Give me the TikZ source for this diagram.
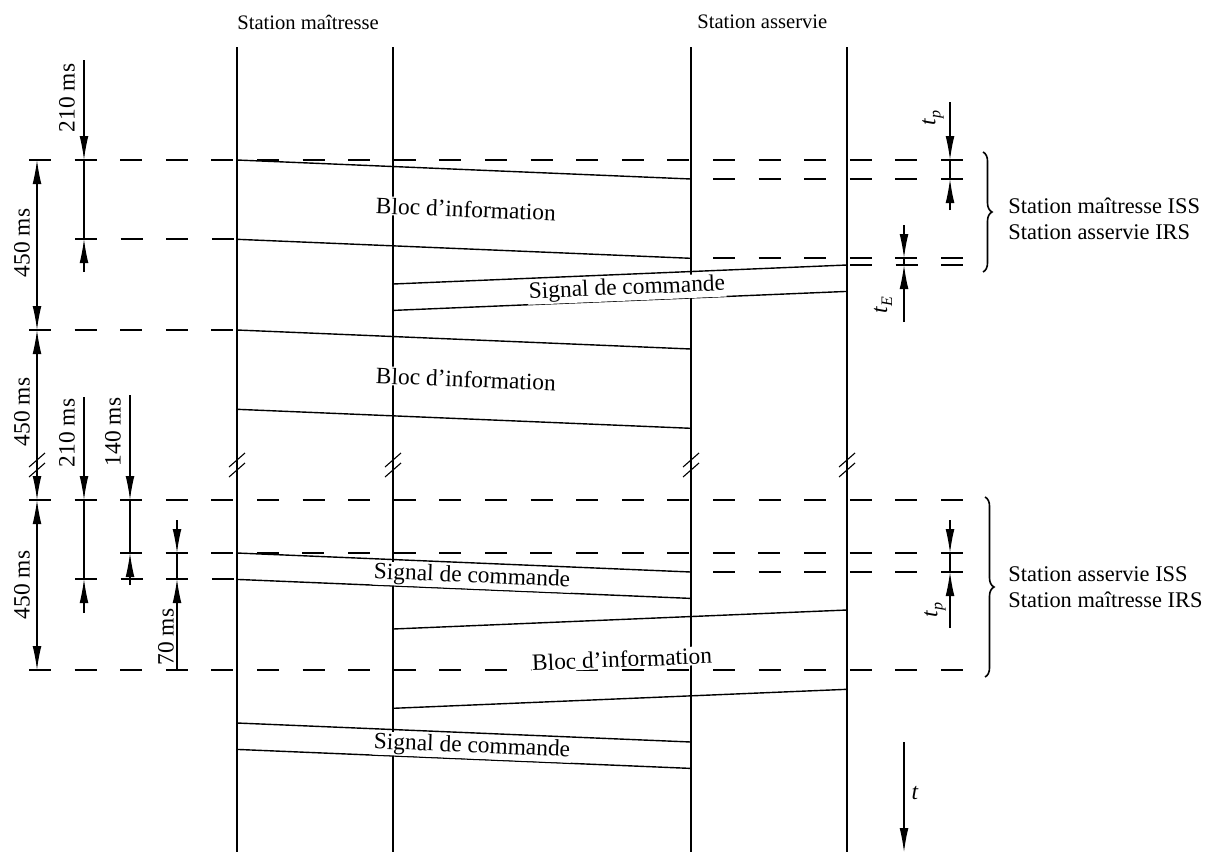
\documentclass[tikz,border=0pt]{standalone}
\usepackage{fontspec}
\setmainfont{Liberation Serif}
\usetikzlibrary{arrows.meta, decorations.pathreplacing}

\tikzset{
  lane/.style={line width=0.55pt},
  blk/.style={line width=0.7pt},
  refline/.style={line width=0.55pt, dash pattern=on 11pt off 11.8pt},
  dimline/.style={line width=0.55pt},
  tip/.style={-{Latex[length=12pt,width=4.4pt]}},
  both/.style={{Latex[length=12pt,width=4.4pt]}-{Latex[length=12pt,width=4.4pt]}},
  lbl/.style={fill=white, inner sep=0.5pt, font=\fontsize{11.7}{13}\selectfont},
  txt/.style={inner sep=0pt, font=\fontsize{11.7}{13}\selectfont},
  hdr/.style={inner sep=0pt, font=\fontsize{10.3}{12}\selectfont},
  side/.style={inner sep=0pt, align=left, font=\fontsize{11.2}{13}\selectfont},
  brk/.style={line width=0.55pt},
}
\newcommand{\tsym}[1]{\textit{t}\raisebox{-0.45ex}{\footnotesize\textit{#1}}}

\begin{document}
\begin{tikzpicture}[x=0.5pt, y=-0.5pt]
  \useasboundingbox (0,0) rectangle (1208,852);

  % stations
  \node[hdr, anchor=west] (hdrM) at (237,22) {Station maîtresse};
  \node[hdr, anchor=west] (hdrS) at (697,22) {Station asservie};
  \foreach \x in {237,393,691,847}
    \draw[lane] (\x,47) -- (\x,852);

  % reference lines
  \draw[refline] (29,160) -- (963,160);
  \draw[refline] (713,179) -- (963,179);
  \draw[refline] (75,239) -- (237,239);
  \draw[refline] (713,258) -- (963,258);
  \draw[refline] (850,265) -- (963,265);
  \draw[refline] (29,330) -- (237,330);
  \draw[refline] (29,500) -- (963,500);
  \draw[refline] (120,553) -- (963,553);
  \draw[refline] (713,572) -- (963,572);
  \draw[refline] (75,579) -- (237,579);
  \draw[refline] (29,670) -- (963,670);

  % blocks
  \draw[blk] (237,160) -- (691,179) -- (691,258.3) -- (237,239.3) -- cycle;
  \node[lbl, rotate=-2.4] (blocA) at (466,209) {Bloc d'information};
  \draw[blk] (847,265) -- (393,284) -- (393,310.4) -- (847,291.4) -- cycle;
  \node[lbl, rotate=2.4] (sigA) at (627,289) {Signal de commande};
  \draw[blk] (237,330) -- (691,349) -- (691,428.3) -- (237,409.3) -- cycle;
  \node[lbl, rotate=-2.4] (blocB) at (466,379) {Bloc d'information};
  \draw[blk] (237,553) -- (691,572) -- (691,598.4) -- (237,579.4) -- cycle;
  \node[lbl, rotate=-2.4] (sigB) at (472,577) {Signal de commande};
  \draw[blk] (847,610) -- (393,629) -- (393,708.3) -- (847,689.3) -- cycle;
  \node[lbl, rotate=2.4] (blocC) at (622,659) {Bloc d'information};
  \draw[blk] (237,723) -- (691,742) -- (691,768.4) -- (237,749.4) -- cycle;
  \node[lbl, rotate=-2.4] (sigC) at (472,747) {Signal de commande};

  % breaks
  \foreach \x in {37,237,393,691,847} {
    \draw[brk] (\x-8,467) -- (\x+8,453);
    \draw[brk] (\x-8,477) -- (\x+8,463);
  }

  % 450 ms
  \draw[dimline, both] (37,160) -- (37,330);
  \draw[dimline, both] (37,330) -- (37,500);
  \draw[dimline, both] (37,500) -- (37,670);
  \node[txt, rotate=90] (dA) at (22,243) {450 ms};
  \node[txt, rotate=90] (dB) at (22,412) {450 ms};
  \node[txt, rotate=90] (dC) at (22,585) {450 ms};

  % 210 ms (top)
  \draw[dimline, tip] (84,60) -- (84,160);
  \draw[dimline] (84,160) -- (84,239);
  \draw[dimline, tip] (84,272) -- (84,239);
  \node[txt, rotate=90] (dD) at (67,98) {210 ms};

  % tp and tE (top)
  \draw[dimline, tip] (950,102) -- (950,160);
  \draw[dimline] (950,160) -- (950,179);
  \draw[dimline, tip] (950,210) -- (950,179);
  \node[txt, rotate=90] (tpA) at (933,118) {\tsym{p}};
  \draw[dimline, tip] (904,225) -- (904,258);
  \draw[dimline] (904,258) -- (904,265);
  \draw[dimline, tip] (904,322) -- (904,265);
  \node[txt, rotate=90] (tE) at (883,305) {\tsym{E}};

  % 210 / 140 / 70 ms (bottom)
  \draw[dimline, tip] (84,397) -- (84,500);
  \draw[dimline] (84,500) -- (84,579);
  \draw[dimline, tip] (84,613) -- (84,579);
  \node[txt, rotate=90] (dE) at (67,433) {210 ms};
  \draw[dimline, tip] (130,395) -- (130,500);
  \draw[dimline] (130,500) -- (130,553);
  \draw[dimline, tip] (130,585) -- (130,553);
  \node[txt, rotate=90] (dF) at (113,432) {140 ms};
  \draw[dimline, tip] (177,520) -- (177,553);
  \draw[dimline] (177,553) -- (177,579);
  \draw[dimline, tip] (177,670) -- (177,579);
  \node[txt, rotate=90] (dG) at (166,637) {70 ms};

  % tp (bottom)
  \draw[dimline, tip] (950,520) -- (950,553);
  \draw[dimline] (950,553) -- (950,572);
  \draw[dimline, tip] (950,628) -- (950,572);
  \node[txt, rotate=90] (tpB) at (935,610) {\tsym{p}};

  % braces
  \draw[line width=0.8pt, decorate, decoration={brace, amplitude=4.5pt}]
    (983,152) -- (983,272);
  \node[side, anchor=west] (issA) at (1008,219)
    {Station maîtresse ISS\\Station asservie IRS};
  \draw[line width=0.8pt, decorate, decoration={brace, amplitude=4.5pt}]
    (985,497) -- (985,677);
  \node[side, anchor=west] (issB) at (1008,587)
    {Station asservie ISS\\Station maîtresse IRS};

  % time axis
  \draw[dimline, tip] (904,742) -- (904,852);
  \node[txt] (tax) at (915,793) {\textit{t}};
\end{tikzpicture}
\end{document}
